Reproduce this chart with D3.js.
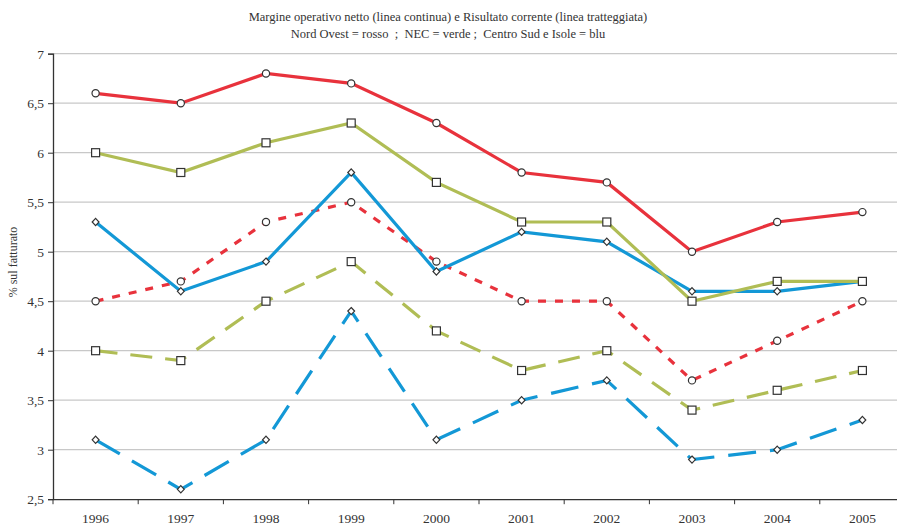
<!DOCTYPE html>
<html><head><meta charset="utf-8">
<script src="https://cdn.jsdelivr.net/npm/d3@7"></script>
<style>body{margin:0;background:#fff}svg{display:block}text{font-family:'Liberation Serif','Times New Roman',Times,'DejaVu Serif',serif !important;fill:#333;white-space:pre}</style>
</head><body><svg id="c" width="897" height="525"></svg>
<script>
const years = ["1996","1997","1998","1999","2000","2001","2002","2003","2004","2005"];
const yTicks = [2.5,3,3.5,4,4.5,5,5.5,6,6.5,7];
const redSolid   = [6.6,6.5,6.8,6.7,6.3,5.8,5.7,5.0,5.3,5.4];
const greenSolid = [6.0,5.8,6.1,6.3,5.7,5.3,5.3,4.5,4.7,4.7];
const blueSolid  = [5.3,4.6,4.9,5.8,4.8,5.2,5.1,4.6,4.6,4.7];
const redDash    = [4.5,4.7,5.3,5.5,4.9,4.5,4.5,3.7,4.1,4.5];
const greenDash  = [4.0,3.9,4.5,4.9,4.2,3.8,4.0,3.4,3.6,3.8];
const blueDash   = [3.1,2.6,3.1,4.4,3.1,3.5,3.7,2.9,3.0,3.3];
const titleLines = ["Margine operativo netto (linea continua) e Risultato corrente (linea tratteggiata)",
                    "Nord Ovest = rosso  ;  NEC = verde ;  Centro Sud e Isole = blu"];
const yLabel = "% sul fatturato";

const RED="#e8323c", GREEN="#b0bd55", BLUE="#1398d6";
const series = [
  {v:greenDash, c:GREEN, dash:"22,13", m:"square"},
  {v:blueDash,  c:BLUE,  dash:"28,14", m:"diamond"},
  {v:redDash,   c:RED,   dash:"8,9",   m:"circle"},
  {v:blueSolid, c:BLUE,  dash:null,    m:"diamond"},
  {v:greenSolid,c:GREEN, dash:null,    m:"square"},
  {v:redSolid,  c:RED,   dash:null,    m:"circle"}
];

const svg = d3.select("#c");
const mLeft=53, mRight=905, mTop=53.7, mBottom=499.2;
const x = d3.scaleBand().domain(years).range([mLeft,mRight]);
const cx = d => x(d)+x.bandwidth()/2;
const y = d3.scaleLinear().domain([2.5,7]).range([mBottom,mTop]);
const SERIF = "'Liberation Serif','Times New Roman',Times,'DejaVu Serif',serif";

// title
svg.selectAll("text.title").data(titleLines).join("text")
  .attr("x",448).attr("y",(d,i)=>21+i*17).attr("text-anchor","middle")
  .attr("font-family",SERIF).style("font-size","12.5px").text(d=>d);

// gridlines
svg.append("g").selectAll("line").data(yTicks.slice(1)).join("line")
  .attr("x1",mLeft).attr("x2",897).attr("y1",d=>y(d)).attr("y2",d=>y(d))
  .attr("stroke","#c8c8c8").attr("stroke-width",1.3);

// y axis
const ya = svg.append("g").attr("transform",`translate(${mLeft},0)`)
  .call(d3.axisLeft(y).tickValues(yTicks).tickSize(5).tickPadding(4)
        .tickFormat(d=>String(d).replace(".",",")));
ya.attr("font-family",SERIF);
ya.select(".domain").attr("stroke","#333").attr("stroke-width",1.3);
ya.selectAll(".tick line").attr("stroke","#333");
ya.selectAll("text").style("font-size","13.5px").attr("fill","#444");

// x axis
const xa = svg.append("g").attr("transform",`translate(0,${mBottom})`)
  .call(d3.axisBottom(x).tickSize(0).tickPadding(14));
xa.attr("font-family",SERIF);
xa.select(".domain").attr("stroke","#333").attr("stroke-width",1.3);
xa.selectAll("text").style("font-size","13.5px").attr("fill","#444");
svg.append("g").selectAll("line").data(years).join("line")
  .attr("x1",d=>x(d)).attr("x2",d=>x(d)).attr("y1",mBottom).attr("y2",mBottom+5)
  .attr("stroke","#333");

// y label
svg.append("text").attr("transform","translate(17,262) rotate(-90)")
  .attr("font-family",SERIF)
  .attr("text-anchor","middle").style("font-size","12px").text(yLabel);

const line = d3.line().x((d,i)=>cx(years[i])).y(d=>y(d));
series.forEach(s=>{
  svg.append("path").datum(s.v).attr("d",line).attr("fill","none")
    .attr("stroke",s.c).attr("stroke-width",3.2)
    .attr("stroke-dasharray",s.dash);
});
series.forEach(s=>{
  const g = svg.append("g");
  s.v.forEach((v,i)=>{
    const px=cx(years[i]), py=y(v);
    if(s.m==="circle") g.append("circle").attr("cx",px).attr("cy",py).attr("r",3.6);
    else if(s.m==="square") g.append("rect").attr("x",px-4).attr("y",py-4).attr("width",8).attr("height",8);
    else g.append("path").attr("d",`M${px},${py-3.6}L${px+3.4},${py}L${px},${py+3.6}L${px-3.4},${py}Z`);
  });
  g.selectAll("*").attr("fill","#fff").attr("stroke","#333").attr("stroke-width",1.2);
});
</script></body></html>
